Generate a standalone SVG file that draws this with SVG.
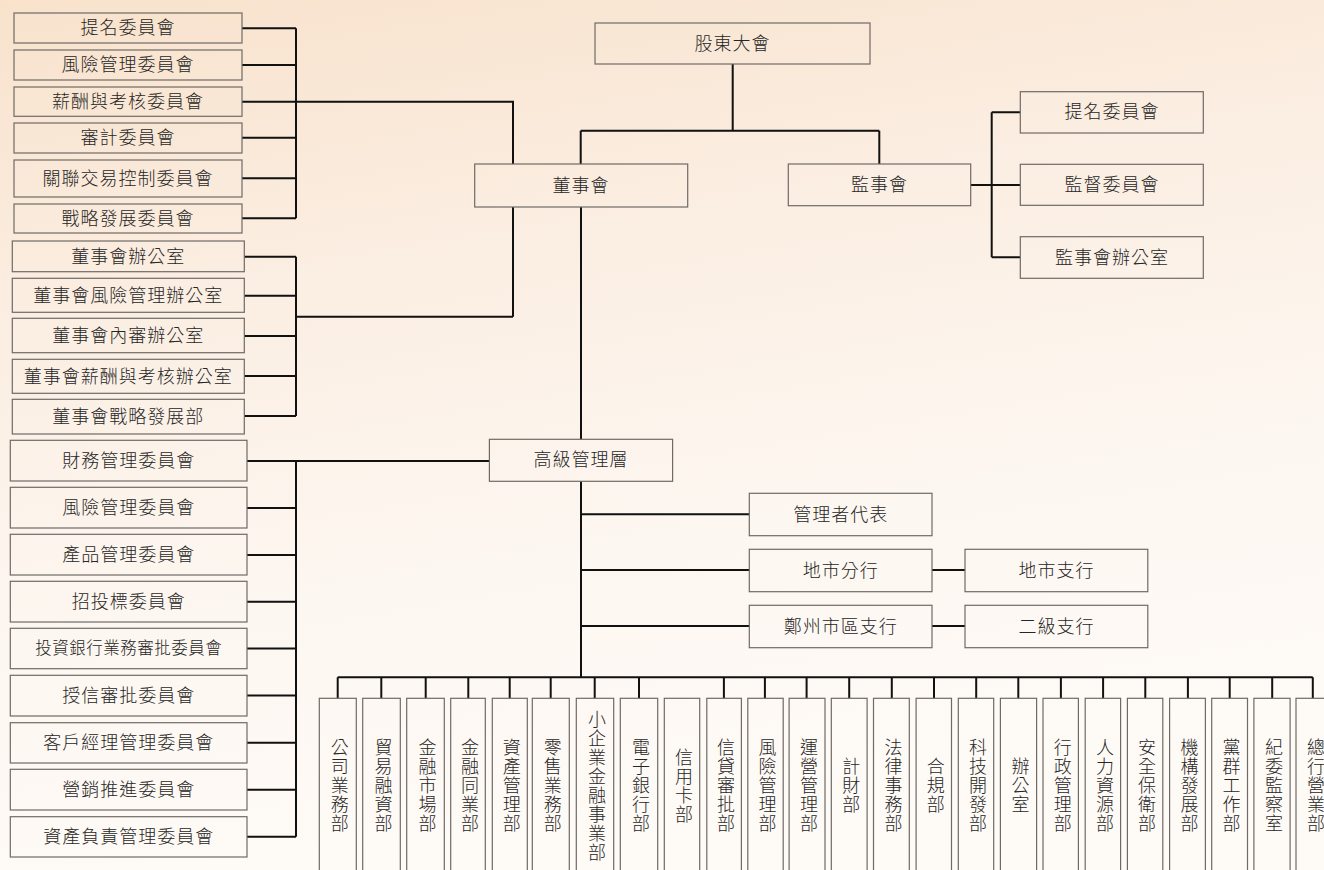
<svg xmlns="http://www.w3.org/2000/svg" width="1324" height="870" viewBox="0 0 1324 870">
<defs>
<linearGradient id="bg" x1="0" y1="0" x2="0.25" y2="1">
<stop offset="0" stop-color="#f8e2cc"/>
<stop offset="0.35" stop-color="#fbeee2"/>
<stop offset="0.7" stop-color="#fdf7f1"/>
<stop offset="1" stop-color="#fefaf6"/>
</linearGradient>
<style>
.b{fill:none;stroke:#6f6a66;stroke-width:1.2}
.t{font-family:"Liberation Serif","Noto Sans CJK TC",serif;font-size:18px;fill:#262626;letter-spacing:1px;text-anchor:middle;dominant-baseline:central;font-weight:300}
.s{font-size:16.5px;letter-spacing:0.5px}
.v{writing-mode:vertical-rl;text-anchor:middle}
.c{fill:none;stroke:#111;stroke-width:2}
</style>
</defs>
<rect x="0" y="0" width="1324" height="870" fill="url(#bg)"/>

<g id="connectors" class="c">
<path d="M732.7,64 V130.7 M580.7,130.7 H879.3 M580.7,130.7 V164 M879.3,130.7 V164"/>
<path d="M581,207 V439.3 M581,481.3 V677.3"/>
<path d="M970.7,185 H1020.3 M991.7,112.3 V257.3 M991.7,112.3 H1020.3 M991.7,257.3 H1020.3"/>
<path d="M242,28.3 H296 M242,65 H296 M242,101.7 H296 M242,137.7 H296 M242,178.3 H296 M242,218.3 H296 M296,28.3 V218.3"/>
<path d="M296,101.7 H513 V164 M513,207 V316.7"/>
<path d="M244.3,256.7 H296 M244.3,295.7 H296 M244.3,336 H296 M244.3,376 H296 M244.3,416 H296 M296,256.7 V416 M296,316.7 H513"/>
<path d="M247,461 H296 M247,508 H296 M247,555 H296 M247,601.7 H296 M247,648.5 H296 M247,695.5 H296 M247,742.8 H296 M247,789.7 H296 M247,836.8 H296 M296,461 V836.8 M296,461 H489.4"/>
<path d="M581,514.3 H749.3 M581,570 H749.3 M581,626 H749.3 M932,570 H965 M932,626 H965"/>
<path d="M337.7,677.3 H1312.8"/>
<path d="M337.7,677.3 V698.3 M381.3,677.3 V698.3 M425.7,677.3 V698.3 M468.3,677.3 V698.3 M509.7,677.3 V698.3 M550.7,677.3 V698.3 M594.7,677.3 V698.3 M639,677.3 V698.3 M723.9,677.3 V698.3 M764.9,677.3 V698.3 M806.6,677.3 V698.3 M849.2,677.3 V698.3 M891.8,677.3 V698.3 M934,677.3 V698.3 M976.2,677.3 V698.3 M1018.3,677.3 V698.3 M1060.9,677.3 V698.3 M1103.1,677.3 V698.3 M1145.3,677.3 V698.3 M1187.9,677.3 V698.3 M1229.7,677.3 V698.3 M1272.2,677.3 V698.3 M1312.8,677.3 V698.3"/>
</g>

<g id="n-gudong"><rect class="b" x="595" y="23" width="275" height="41"/><text class="t" x="732.5" y="43.5">股東大會</text></g>
<g id="n-dongshihui"><rect class="b" x="474.7" y="164" width="213" height="43"/><text class="t" x="581" y="185.5">董事會</text></g>
<g id="n-jianshihui"><rect class="b" x="788.3" y="164" width="182.4" height="41.7"/><text class="t" x="879.5" y="185">監事會</text></g>
<g id="n-r1"><rect class="b" x="1020.3" y="91.7" width="183" height="41.3"/><text class="t" x="1112" y="112.3">提名委員會</text></g>
<g id="n-r2"><rect class="b" x="1020.3" y="164.3" width="183" height="41"/><text class="t" x="1112" y="185">監督委員會</text></g>
<g id="n-r3"><rect class="b" x="1020.3" y="236.7" width="183" height="41.6"/><text class="t" x="1112" y="257.5">監事會辦公室</text></g>

<g id="n-a1"><rect class="b" x="14" y="13" width="228" height="30"/><text class="t" x="128" y="28">提名委員會</text></g>
<g id="n-a2"><rect class="b" x="14" y="50" width="228" height="30"/><text class="t" x="128" y="65">風險管理委員會</text></g>
<g id="n-a3"><rect class="b" x="14" y="87" width="228" height="29.3"/><text class="t" x="128" y="101.7">薪酬與考核委員會</text></g>
<g id="n-a4"><rect class="b" x="14" y="123" width="228" height="30"/><text class="t" x="128" y="138">審計委員會</text></g>
<g id="n-a5"><rect class="b" x="14" y="160" width="228" height="37"/><text class="t" x="128" y="178.5">關聯交易控制委員會</text></g>
<g id="n-a6"><rect class="b" x="14" y="204" width="228" height="29"/><text class="t" x="128" y="218.5">戰略發展委員會</text></g>

<g id="n-b1"><rect class="b" x="12.3" y="241" width="232" height="30.7"/><text class="t" x="128.3" y="256.5">董事會辦公室</text></g>
<g id="n-b2"><rect class="b" x="12.3" y="278.3" width="232" height="34"/><text class="t" x="128.3" y="295.5">董事會風險管理辦公室</text></g>
<g id="n-b3"><rect class="b" x="12.3" y="318.3" width="232" height="34.4"/><text class="t" x="128.3" y="335.7">董事會內審辦公室</text></g>
<g id="n-b4"><rect class="b" x="12.3" y="359.3" width="232" height="34"/><text class="t" x="128.3" y="376.5">董事會薪酬與考核辦公室</text></g>
<g id="n-b5"><rect class="b" x="12.3" y="399.3" width="232" height="34.7"/><text class="t" x="128.3" y="416.5">董事會戰略發展部</text></g>

<g id="n-c1"><rect class="b" x="10.3" y="440.3" width="236.7" height="40.7"/><text class="t" x="128.7" y="460.7">財務管理委員會</text></g>
<g id="n-c2"><rect class="b" x="10.3" y="487.3" width="236.7" height="40.7"/><text class="t" x="128.7" y="507.7">風險管理委員會</text></g>
<g id="n-c3"><rect class="b" x="10.3" y="534.3" width="236.7" height="40.7"/><text class="t" x="128.7" y="554.7">產品管理委員會</text></g>
<g id="n-c4"><rect class="b" x="10.3" y="581.3" width="236.7" height="40.7"/><text class="t" x="128.7" y="601.7">招投標委員會</text></g>
<g id="n-c5"><rect class="b" x="10.3" y="628.3" width="236.7" height="40.4"/><text class="t s" x="128.7" y="648.5">投資銀行業務審批委員會</text></g>
<g id="n-c6"><rect class="b" x="10.3" y="675.3" width="236.7" height="40.7"/><text class="t" x="128.7" y="695.7">授信審批委員會</text></g>
<g id="n-c7"><rect class="b" x="10.3" y="722.7" width="236.7" height="40.3"/><text class="t" x="128.7" y="742.8">客戶經理管理委員會</text></g>
<g id="n-c8"><rect class="b" x="10.3" y="769.3" width="236.7" height="40.7"/><text class="t" x="128.7" y="789.7">營銷推進委員會</text></g>
<g id="n-c9"><rect class="b" x="10.3" y="816.7" width="236.7" height="40.3"/><text class="t" x="128.7" y="836.8">資產負責管理委員會</text></g>

<g id="n-gaoji"><rect class="b" x="489.4" y="439.3" width="183.2" height="42"/><text class="t" x="581" y="460.3">高級管理層</text></g>
<g id="n-guanli"><rect class="b" x="749.3" y="493.3" width="182.7" height="42.4"/><text class="t" x="840.7" y="514.5">管理者代表</text></g>
<g id="n-dishifen"><rect class="b" x="749.3" y="549.3" width="182.7" height="42.4"/><text class="t" x="840.7" y="570.5">地市分行</text></g>
<g id="n-dishizhi"><rect class="b" x="965" y="549.3" width="182.8" height="42.4"/><text class="t" x="1056.4" y="570.5">地市支行</text></g>
<g id="n-zhengzhou"><rect class="b" x="749.3" y="605.3" width="182.7" height="42.4"/><text class="t" x="840.7" y="626.5">鄭州市區支行</text></g>
<g id="n-erji"><rect class="b" x="965" y="605.3" width="182.8" height="42.4"/><text class="t" x="1056.4" y="626.5">二級支行</text></g>

<g id="n-d1"><rect class="b" x="319.3" y="698.3" width="37" height="180"/><text class="t v" x="337.8" y="786">公司業務部</text></g>
<g id="n-d2"><rect class="b" x="362.7" y="698.3" width="37.6" height="180"/><text class="t v" x="381.5" y="786">貿易融資部</text></g>
<g id="n-d3"><rect class="b" x="406.7" y="698.3" width="37.6" height="180"/><text class="t v" x="425.5" y="786">金融市場部</text></g>
<g id="n-d4"><rect class="b" x="450.7" y="698.3" width="34.6" height="180"/><text class="t v" x="468" y="786">金融同業部</text></g>
<g id="n-d5"><rect class="b" x="492.3" y="698.3" width="35" height="180"/><text class="t v" x="509.8" y="786">資產管理部</text></g>
<g id="n-d6"><rect class="b" x="532.3" y="698.3" width="37" height="180"/><text class="t v" x="550.8" y="786">零售業務部</text></g>
<g id="n-d7"><rect class="b" x="576.3" y="698.3" width="37.4" height="180"/><text class="t v" x="595" y="786.5">小企業金融事業部</text></g>
<g id="n-d8"><rect class="b" x="620.3" y="698.3" width="37.4" height="180"/><text class="t v" x="639" y="786">電子銀行部</text></g>
<g id="n-d9"><rect class="b" x="664.3" y="698.3" width="35.4" height="180"/><text class="t v" x="682" y="786">信用卡部</text></g>
<g id="n-d10"><rect class="b" x="706.8" y="698.3" width="34.6" height="180"/><text class="t v" x="724.1" y="786">信貸審批部</text></g>
<g id="n-d11"><rect class="b" x="747.8" y="698.3" width="35.4" height="180"/><text class="t v" x="765.5" y="786">風險管理部</text></g>
<g id="n-d12"><rect class="b" x="789.1" y="698.3" width="35.9" height="180"/><text class="t v" x="807" y="786">運營管理部</text></g>
<g id="n-d13"><rect class="b" x="831.3" y="698.3" width="35.8" height="180"/><text class="t v" x="849.2" y="786">計財部</text></g>
<g id="n-d14"><rect class="b" x="873.5" y="698.3" width="35.8" height="180"/><text class="t v" x="891.4" y="786">法律事務部</text></g>
<g id="n-d15"><rect class="b" x="916.1" y="698.3" width="35.4" height="180"/><text class="t v" x="933.8" y="786">合規部</text></g>
<g id="n-d16"><rect class="b" x="958.3" y="698.3" width="35.4" height="180"/><text class="t v" x="976" y="786">科技開發部</text></g>
<g id="n-d17"><rect class="b" x="1000.4" y="698.3" width="36.2" height="180"/><text class="t v" x="1018.5" y="786">辦公室</text></g>
<g id="n-d18"><rect class="b" x="1043" y="698.3" width="35.4" height="180"/><text class="t v" x="1060.7" y="786">行政管理部</text></g>
<g id="n-d19"><rect class="b" x="1085.2" y="698.3" width="35.4" height="180"/><text class="t v" x="1102.9" y="786">人力資源部</text></g>
<g id="n-d20"><rect class="b" x="1127.4" y="698.3" width="35.4" height="180"/><text class="t v" x="1145.1" y="786">安全保衛部</text></g>
<g id="n-d21"><rect class="b" x="1169.6" y="698.3" width="35.8" height="180"/><text class="t v" x="1187.5" y="786">機構發展部</text></g>
<g id="n-d22"><rect class="b" x="1211.7" y="698.3" width="35.8" height="180"/><text class="t v" x="1229.6" y="786">黨群工作部</text></g>
<g id="n-d23"><rect class="b" x="1253.9" y="698.3" width="36.2" height="180"/><text class="t v" x="1272" y="786">紀委監察室</text></g>
<g id="n-d24"><rect class="b" x="1296" y="698.3" width="36" height="180"/><text class="t v" x="1314" y="786">總行營業部</text></g>
</svg>
